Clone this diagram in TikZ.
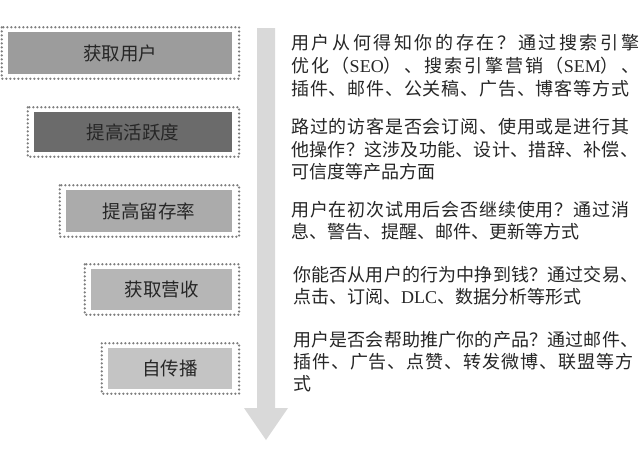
\documentclass[tikz,border=0pt]{standalone}
\usepackage{fontspec}
\setmainfont{Liberation Serif}
\newfontfamily\cjk{Noto Sans CJK SC}
\newcount\cjkcc
\cjkcc="4E00
\loop
  \XeTeXcharclass\cjkcc=1
  \advance\cjkcc by 1
\ifnum\cjkcc<"A000 \repeat
\XeTeXcharclass"3001=1
\XeTeXcharclass"FF08=1
\XeTeXcharclass"FF09=1
\XeTeXcharclass"FF1F=1
\XeTeXinterchartokenstate=1
\def\jg{\hskip0pt plus 1pt\relax}
\XeTeXinterchartoks 0 1={\jg}
\XeTeXinterchartoks 1 0={\jg}
\XeTeXinterchartoks 1 1={\jg}
\newcommand\jl[2]{\makebox[#1pt][s]{#2}}
\definecolor{arrowgray}{HTML}{D9D9D9}
\definecolor{dotgray}{HTML}{7E7E7E}
\definecolor{txt}{HTML}{262626}
\definecolor{fa}{HTML}{9C9C9C}
\definecolor{fb}{HTML}{6B6B6B}
\definecolor{fc}{HTML}{ABABAB}
\definecolor{fd}{HTML}{B6B6B6}
\definecolor{fe}{HTML}{C4C4C4}
\tikzset{
  stagebox/.style={draw=none, inner sep=0, text=txt,
    font=\cjk\fontsize{18.5}{22}\selectfont},
  dotborder/.style={draw=dotgray, line width=2.5pt, line cap=round,
    dash pattern=on 0pt off 4pt},
  rt/.style={anchor=base west, inner sep=0, text=txt,
    font=\cjk\fontsize{18}{22}\selectfont},
}
\begin{document}
\begin{tikzpicture}[x=1pt,y=-1pt]
\useasboundingbox[fill=white] (0,0) rectangle (640,459);
% big arrow
\coordinate (atl) at (257,28);
\coordinate (atr) at (275,28);
\coordinate (tip) at (266,440);
\fill[arrowgray] (atl) -- (atr) -- (275,408) -- (288,408) -- (tip) -- (244,408) -- (257,408) -- cycle;
% stage boxes
\node[stagebox, fill=fa, minimum width=224pt, minimum height=42pt] (s1) at (120,53) {获取用户};
\node[stagebox, fill=fb, minimum width=198pt, minimum height=40pt] (s2) at (133,132) {提高活跃度};
\node[stagebox, fill=fc, minimum width=166pt, minimum height=42pt] (s3) at (149,211) {提高留存率};
\node[stagebox, fill=fd, minimum width=141pt, minimum height=41pt] (s4) at (161.5,289.5) {获取营收};
\node[stagebox, fill=fe, minimum width=124pt, minimum height=41pt] (s5) at (170,368.5) {自传播};
\foreach \s in {s1,s2,s3,s4,s5}{
  \draw[dotborder] ([shift={(-6,-4.5)}]\s.north west) rectangle ([shift={(7,4.5)}]\s.south east);
}
% descriptions
\node[rt] (a1) at (291,49) {\jl{348}{用户从何得知你的存在？通过搜索引擎}};
\node[rt] (a2) at (291,72) {\jl{348}{优化（{\rmfamily SEO}）、搜索引擎营销（{\rmfamily SEM}）、}};
\node[rt] (a3) at (291,95) {\jl{338}{插件、邮件、公关稿、广告、博客等方式}};
\node[rt] (b1) at (291,133) {\jl{338}{路过的访客是否会订阅、使用或是进行其}};
\node[rt] (b2) at (291,156) {\jl{347}{他操作？这涉及功能、设计、措辞、补偿、}};
\node[rt] (b3) at (291,178) {可信度等产品方面};
\node[rt] (c1) at (291,216) {\jl{338}{用户在初次试用后会否继续使用？通过消}};
\node[rt] (c2) at (291,238) {息、警告、提醒、邮件、更新等方式};
\node[rt] (d1) at (293,281) {\jl{345}{你能否从用户的行为中挣到钱？通过交易、}};
\node[rt] (d2) at (293,303) {点击、订阅、{\rmfamily DLC}、数据分析等形式};
\node[rt] (e1) at (293,346) {\jl{345}{用户是否会帮助推广你的产品？通过邮件、}};
\node[rt] (e2) at (293,368) {\jl{340}{插件、广告、点赞、转发微博、联盟等方}};
\node[rt] (e3) at (293,390) {式};
\end{tikzpicture}
\end{document}
